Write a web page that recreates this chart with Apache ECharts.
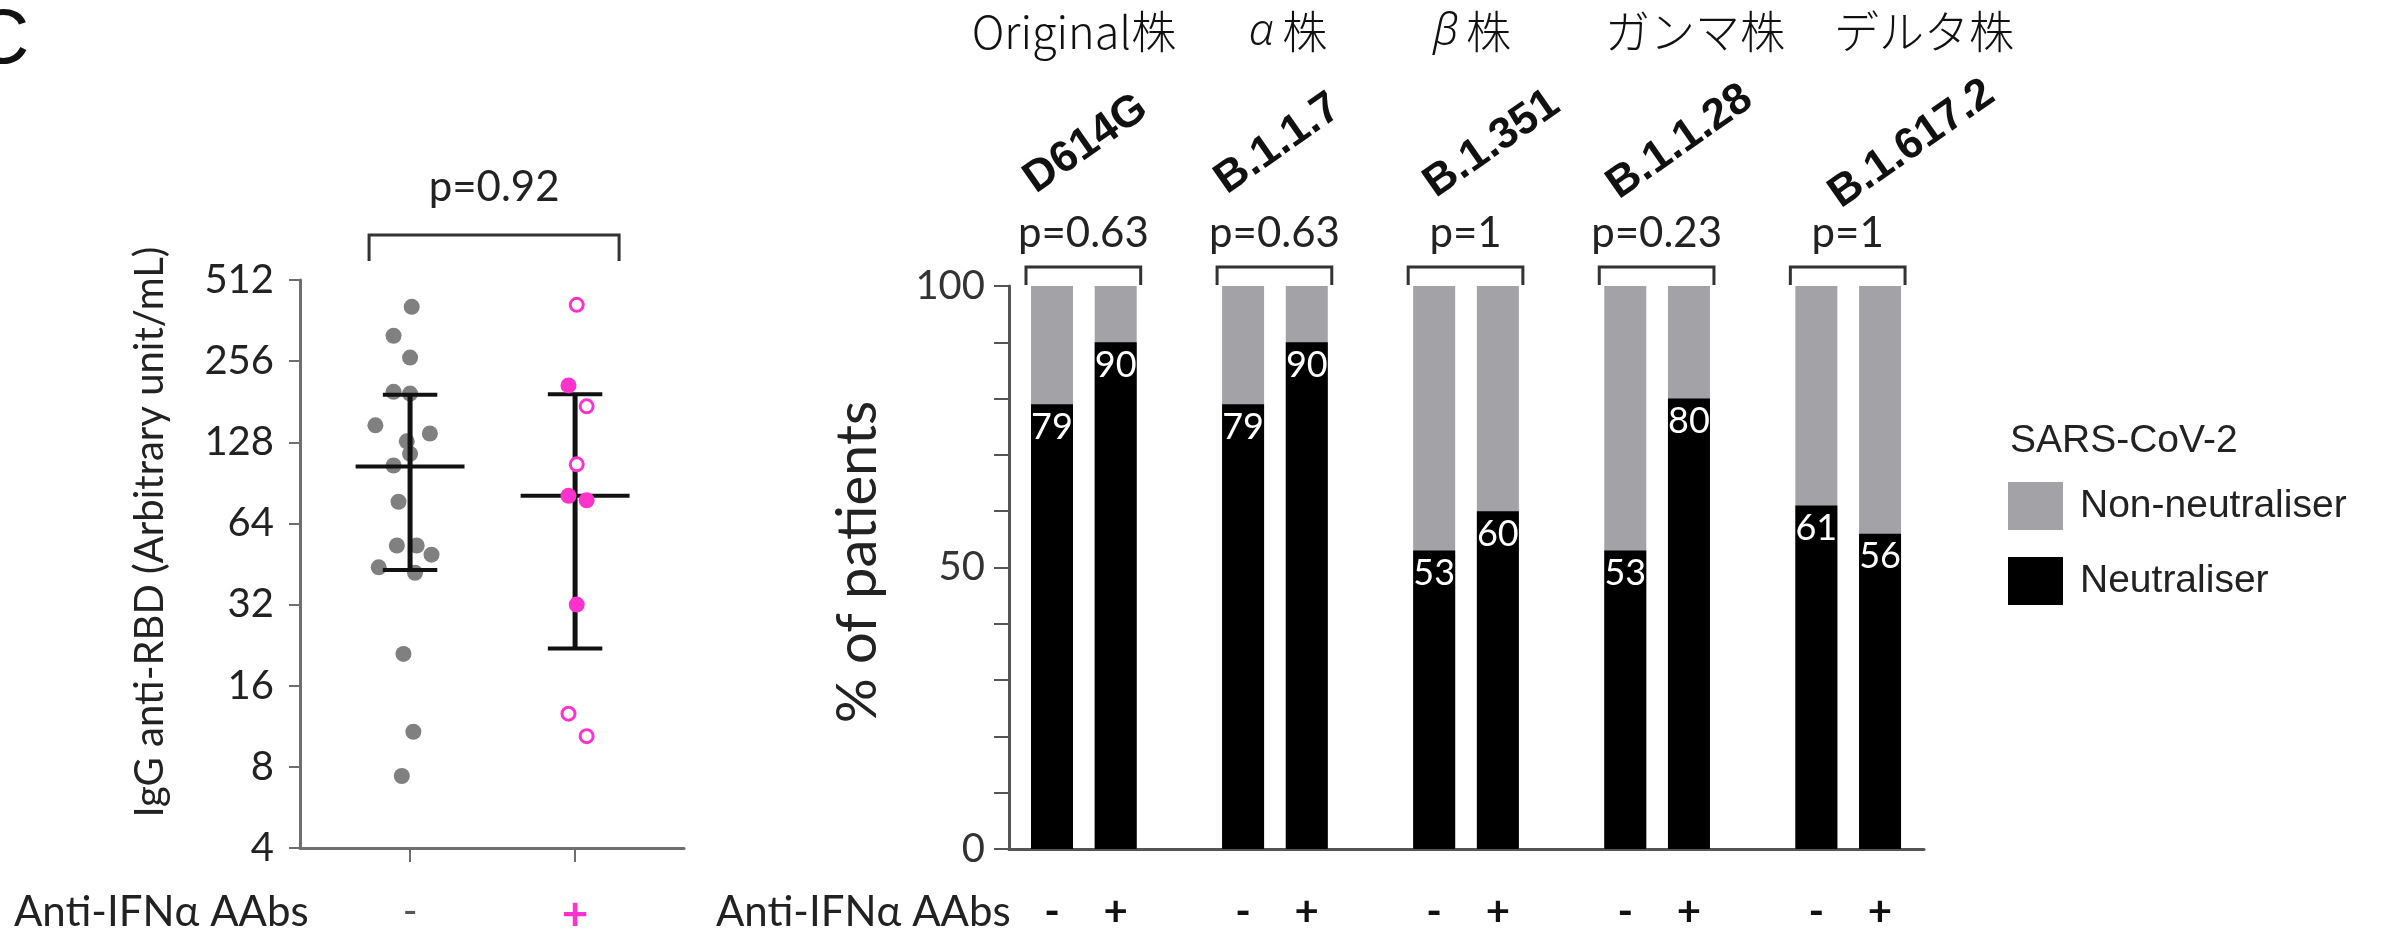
<!DOCTYPE html>
<html>
<head>
<meta charset="utf-8">
<title>Anti-IFNα AAbs and SARS-CoV-2 neutralisation</title>
<script src="https://cdn.jsdelivr.net/npm/echarts@6.0.0/dist/echarts.min.js"></script>
<style>
  html, body { margin: 0; padding: 0; background: #fff; }
  #chart { width: 2389px; height: 930px; }
</style>
</head>
<body>
<div id="chart"></div>
<script>
// ---- left panel: IgG anti-RBD, points are [jitter, value] ----
const groups = ['-', '+']
const negDots = [
  [0.01, 407], [-0.10, 318], [0.00, 264], [-0.10, 197], [0.00, 194],
  [-0.21, 148], [0.12, 138], [-0.02, 129], [0.00, 116], [-0.10, 105],
  [-0.07, 77], [-0.08, 53], [0.04, 53], [0.13, 49], [-0.19, 44],
  [0.03, 42], [-0.04, 21], [0.02, 10.8], [-0.05, 7.4]
]
const posFilled = [[0.96, 208], [0.96, 81], [1.07, 78], [1.01, 32]]
const posOpen = [[1.01, 414], [1.07, 174], [1.01, 106], [0.96, 12.6], [1.07, 10.4]]
// [group, lower, mean, upper]
const igStats = [[0, 43, 104, 192], [1, 22, 81, 193]]
const igPValue = 'p=0.92'

// ---- right panel: % of patients ----
const strains = ['Original株', 'α株', 'β株', 'ガンマ株', 'デルタ株']
const variants = ['D614G', 'B.1.1.7', 'B.1.351', 'B.1.1.28', 'B.1.617.2']
const pValues = ['p=0.63', 'p=0.63', 'p=1', 'p=0.23', 'p=1']
// order: variant by variant, '-' then '+'
const neutraliser = [79, 90, 79, 90, 53, 60, 53, 80, 61, 56]
const nonNeutraliser = [21, 10, 21, 10, 47, 40, 47, 20, 39, 44]

const MAGENTA = '#ff33cc'
const GREY_BAR = '#a3a3a7'
const AXIS = '#6e6e6e'
const TXT = '#222'

// each variant takes three slots: '-', '+', gap
const slots = []
variants.forEach((v, i) => groups.forEach((g, j) => slots.push(i * 3 + j)))

const chart = echarts.init(document.getElementById('chart'))

// heading positions (layout only)
const strainX = [1074, 1288, 1472, 1695, 1924]
const variantPos = [[1086, 144], [1278, 144], [1492, 144], [1680, 142], [1912, 144]]

// greek letters in the headings are set in italics
const richHeading = s => {
  const g = s.charAt(0)
  return (g === 'α' || g === 'β') ? '{gr|' + g + '}' + s.slice(1) : s
}

const graphics = [
  { type: 'text', x: -27, y: 41, style: { text: 'C', font: '78px "Liberation Sans"', fill: '#111', textVerticalAlign: 'middle' } },
  { type: 'text', x: 150, y: 532, rotation: Math.PI / 2, style: { text: 'IgG anti-RBD (Arbitrary unit/mL)', font: '40px Lato', fill: TXT, textAlign: 'center', textVerticalAlign: 'middle' } },
  { type: 'text', x: 858, y: 562, rotation: Math.PI / 2, style: { text: '% of patients', font: '56px Lato', fill: TXT, textAlign: 'center', textVerticalAlign: 'middle' } },
  { type: 'text', x: 14, y: 912, style: { text: 'Anti-IFNα AAbs', font: '42px Lato', fill: TXT, textVerticalAlign: 'middle' } },
  { type: 'text', x: 716, y: 912, style: { text: 'Anti-IFNα AAbs', font: '42px Lato', fill: TXT, textVerticalAlign: 'middle' } },
  { type: 'text', x: 2010, y: 441, style: { text: 'SARS-CoV-2', font: '39px "Liberation Sans"', fill: TXT, textVerticalAlign: 'middle' } }
]
strains.forEach((s, i) => {
  graphics.push({
    type: 'text', x: strainX[i], y: 32,
    style: {
      text: richHeading(s), font: '300 45px "Noto Sans CJK JP"', fill: '#111',
      textAlign: 'center', textVerticalAlign: 'middle',
      rich: { gr: { fontFamily: 'Noto Sans', fontStyle: 'italic', fontSize: 44, fontWeight: 300, fill: '#111', padding: [0, 8, 0, 0] } }
    }
  })
})
variants.forEach((v, i) => {
  graphics.push({ type: 'text', x: variantPos[i][0], y: variantPos[i][1], rotation: 35 * Math.PI / 180, style: { text: v, font: 'bold 44px "Liberation Sans"', fill: '#111', textAlign: 'center', textVerticalAlign: 'middle' } })
})

chart.setOption({
  animation: false,
  backgroundColor: '#fff',
  graphic: graphics,
  legend: {
    orient: 'vertical',
    left: 2008,
    top: 482,
    padding: 0,
    itemWidth: 55,
    itemHeight: 48,
    itemGap: 27,
    icon: 'rect',
    data: ['Non-neutraliser', 'Neutraliser'],
    textStyle: { fontSize: 39, fontFamily: 'Liberation Sans', color: TXT, padding: [0, 0, 0, 12] }
  },
  grid: [
    { left: 300, top: 280, width: 384, height: 568, outerBoundsMode: 'none' },
    { left: 1009, top: 286, width: 915, height: 563, outerBoundsMode: 'none' }
  ],
  xAxis: [
    {
      gridIndex: 0, type: 'value', min: -0.667, max: 1.66,
      splitLine: { show: false },
      axisLine: { onZero: false, lineStyle: { color: AXIS, width: 3 } },
      axisTick: { customValues: [0, 1], length: 14, lineStyle: { color: AXIS, width: 2 } },
      axisLabel: {
        customValues: [0, 1], margin: 44,
        formatter: v => (v === 0 ? '{n|' + groups[0] + '}' : '{p|' + groups[1] + '}'),
        rich: {
          n: { fontSize: 40, color: '#555', fontFamily: 'Lato' },
          p: { fontSize: 46, color: MAGENTA, fontFamily: 'Lato', fontWeight: 'bold' }
        }
      }
    },
    {
      gridIndex: 1, type: 'value', min: -0.675, max: 13.69,
      splitLine: { show: false },
      axisLine: { onZero: false, lineStyle: { color: '#555', width: 3 } },
      axisTick: { show: false },
      axisLabel: {
        customValues: slots, margin: 42,
        formatter: v => groups[v % 3],
        fontSize: 42, fontWeight: 'bold', color: '#111', fontFamily: 'Lato'
      }
    }
  ],
  yAxis: [
    {
      gridIndex: 0, type: 'log', logBase: 2, min: 4, max: 512,
      splitLine: { show: false },
      axisLine: { show: true, onZero: false, lineStyle: { color: AXIS, width: 3 } },
      axisTick: { show: true, length: 11, lineStyle: { color: AXIS, width: 2 } },
      axisLabel: { fontSize: 40, color: TXT, fontFamily: 'Lato', margin: 26 }
    },
    {
      gridIndex: 1, type: 'value', min: 0, max: 100, interval: 10,
      splitLine: { show: false },
      axisLine: { show: true, onZero: false, lineStyle: { color: '#555', width: 3 } },
      axisTick: { show: true, length: 15, lineStyle: { color: '#555', width: 2 } },
      axisLabel: { fontSize: 40, color: '#333', fontFamily: 'Lato', margin: 24, formatter: v => (v % 50 === 0 ? v : '') }
    }
  ],
  series: [
    {
      type: 'scatter', xAxisIndex: 0, yAxisIndex: 0, z: 2,
      symbolSize: 16, data: negDots, itemStyle: { color: '#808080', opacity: 1 }
    },
    {
      type: 'custom', xAxisIndex: 0, yAxisIndex: 0, z: 3,
      data: igStats, encode: { x: 0, y: [1, 2, 3] },
      renderItem: (params, api) => {
        const g = api.value(0)
        const lo = api.coord([g, api.value(1)])
        const mid = api.coord([g, api.value(2)])
        const hi = api.coord([g, api.value(3)])
        const mL = api.coord([g - 0.33, api.value(2)])[0]
        const mR = api.coord([g + 0.33, api.value(2)])[0]
        const cL = api.coord([g - 0.165, api.value(2)])[0]
        const cR = api.coord([g + 0.165, api.value(2)])[0]
        const st = { stroke: '#111', lineWidth: 4 }
        return {
          type: 'group',
          children: [
            { type: 'line', shape: { x1: mid[0], y1: hi[1], x2: mid[0], y2: lo[1] }, style: { stroke: '#111', lineWidth: 5 } },
            { type: 'line', shape: { x1: mL, y1: mid[1], x2: mR, y2: mid[1] }, style: st },
            { type: 'line', shape: { x1: cL, y1: hi[1], x2: cR, y2: hi[1] }, style: st },
            { type: 'line', shape: { x1: cL, y1: lo[1], x2: cR, y2: lo[1] }, style: st }
          ]
        }
      }
    },
    {
      type: 'scatter', xAxisIndex: 0, yAxisIndex: 0, z: 4,
      symbolSize: 16, data: posFilled, itemStyle: { color: MAGENTA, opacity: 1 }
    },
    {
      type: 'scatter', xAxisIndex: 0, yAxisIndex: 0, z: 4,
      symbolSize: 13, data: posOpen, itemStyle: { color: '#fff', borderColor: MAGENTA, borderWidth: 3, opacity: 1 }
    },
    {
      // bracket and p-value over the two groups
      type: 'custom', xAxisIndex: 0, yAxisIndex: 0, z: 3,
      data: [[0, 1, 512]], encode: { x: [0, 1], y: 2 },
      renderItem: (params, api) => {
        const a = api.coord([api.value(0), api.value(2)])
        const b = api.coord([api.value(1), api.value(2)])
        const x0 = a[0] - 41
        const x1 = b[0] + 44
        const yTop = a[1] - 45
        const yLeg = a[1] - 19
        return {
          type: 'group',
          children: [
            { type: 'polyline', shape: { points: [[x0, yLeg], [x0, yTop], [x1, yTop], [x1, yLeg]] }, style: { stroke: '#333', lineWidth: 3, fill: null } },
            { type: 'text', x: (x0 + x1) / 2, y: yTop - 48, style: { text: igPValue, font: '42px Lato', fill: TXT, textAlign: 'center', textVerticalAlign: 'middle' } }
          ]
        }
      }
    },
    {
      // full-height grey bars, the black neutraliser share is drawn over them
      name: 'Non-neutraliser', type: 'bar', xAxisIndex: 1, yAxisIndex: 1,
      barWidth: 42, barGap: '-100%',
      data: slots.map((s, k) => [s, neutraliser[k] + nonNeutraliser[k]]),
      itemStyle: { color: GREY_BAR }
    },
    {
      name: 'Neutraliser', type: 'bar', xAxisIndex: 1, yAxisIndex: 1,
      barWidth: 42, barGap: '-100%',
      data: slots.map((s, k) => [s, neutraliser[k]]),
      itemStyle: { color: '#000' },
      label: {
        show: true, position: 'insideTop', distance: 5, color: '#fff',
        fontSize: 36, fontFamily: 'Lato', formatter: p => p.value[1]
      }
    },
    {
      // brackets and p-values per variant
      type: 'custom', xAxisIndex: 1, yAxisIndex: 1, z: 3,
      data: variants.map((v, i) => [i * 3, i * 3 + 1, 100]), encode: { x: [0, 1], y: 2 },
      renderItem: (params, api) => {
        const a = api.coord([api.value(0), api.value(2)])
        const b = api.coord([api.value(1), api.value(2)])
        const x0 = a[0] - 26
        const x1 = b[0] + 25
        const yTop = a[1] - 19
        const yLeg = a[1] - 1
        return {
          type: 'group',
          children: [
            { type: 'polyline', shape: { points: [[x0, yLeg], [x0, yTop], [x1, yTop], [x1, yLeg]] }, style: { stroke: '#333', lineWidth: 3, fill: null } },
            { type: 'text', x: (x0 + x1) / 2, y: yTop - 34, style: { text: pValues[params.dataIndex], font: '42px Lato', fill: TXT, textAlign: 'center', textVerticalAlign: 'middle' } }
          ]
        }
      }
    }
  ]
})
</script>
</body>
</html>
